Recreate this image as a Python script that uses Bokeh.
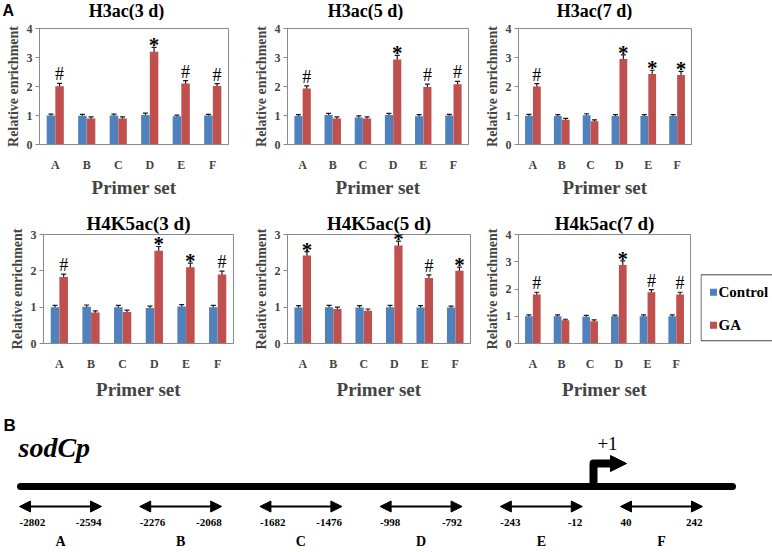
from bokeh.plotting import figure
from bokeh.models import (Range1d, FactorRange, ColumnDataSource, Whisker, TeeHead,
                          Arrow, NormalHead, FixedTicker)
from bokeh.transform import dodge
from bokeh.layouts import column, row
from bokeh.core.properties import value
from bokeh.embed import file_html
from bokeh.resources import INLINE

# ---------------- data ----------------
primers = ["A", "B", "C", "D", "E", "F"]

titles = ["H3ac(3 d)", "H3ac(5 d)", "H3ac(7 d)", "H4K5ac(3 d)", "H4K5ac(5 d)", "H4k5ac(7 d)"]
y_max = [4, 4, 4, 3, 3, 4]

ctrl_h3_3d = [1.00, 0.99, 1.00, 1.02, 0.97, 1.00]
ga_h3_3d = [2.01, 0.90, 0.90, 3.20, 2.10, 2.02]
ctrl_err_h3_3d = [0.05, 0.05, 0.05, 0.06, 0.04, 0.04]
ga_err_h3_3d = [0.10, 0.05, 0.05, 0.15, 0.10, 0.08]
marks_h3_3d = ["#", "", "", "*", "#", "#"]

ctrl_h3_5d = [0.98, 1.02, 0.93, 1.02, 0.97, 1.00]
ga_h3_5d = [1.93, 0.90, 0.90, 2.93, 1.98, 2.08]
ctrl_err_h3_5d = [0.05, 0.05, 0.06, 0.05, 0.06, 0.04]
ga_err_h3_5d = [0.09, 0.05, 0.05, 0.14, 0.10, 0.10]
marks_h3_5d = ["#", "", "", "*", "#", "#"]

ctrl_h3_7d = [0.99, 0.98, 1.01, 0.98, 0.98, 0.98]
ga_h3_7d = [2.00, 0.85, 0.80, 2.95, 2.43, 2.40]
ctrl_err_h3_7d = [0.05, 0.05, 0.05, 0.05, 0.05, 0.05]
ga_err_h3_7d = [0.10, 0.05, 0.05, 0.14, 0.13, 0.12]
marks_h3_7d = ["#", "", "", "*", "*", "*"]

ctrl_h4_3d = [1.00, 1.01, 1.00, 0.98, 1.02, 1.00]
ga_h4_3d = [1.83, 0.85, 0.87, 2.55, 2.10, 1.90]
ctrl_err_h4_3d = [0.05, 0.05, 0.05, 0.05, 0.05, 0.05]
ga_err_h4_3d = [0.08, 0.05, 0.05, 0.12, 0.11, 0.09]
marks_h4_3d = ["#", "", "", "*", "*", "#"]

ctrl_h4_5d = [0.99, 1.00, 0.99, 1.00, 0.99, 0.99]
ga_h4_5d = [2.42, 0.95, 0.90, 2.70, 1.80, 2.00]
ctrl_err_h4_5d = [0.05, 0.05, 0.05, 0.05, 0.05, 0.04]
ga_err_h4_5d = [0.11, 0.05, 0.05, 0.12, 0.09, 0.10]
marks_h4_5d = ["*", "", "", "*", "#", "*"]

ctrl_h4_7d = [1.00, 1.00, 0.98, 1.00, 1.00, 1.00]
ga_h4_7d = [1.80, 0.85, 0.82, 2.88, 1.88, 1.80]
ctrl_err_h4_7d = [0.05, 0.05, 0.05, 0.04, 0.05, 0.05]
ga_err_h4_7d = [0.08, 0.04, 0.05, 0.15, 0.10, 0.08]
marks_h4_7d = ["#", "", "", "*", "#", "#"]

series_names = ["Control", "GA"]

# promoter map
primer_start = [-2802, -2276, -1682, -998, -243, 40]
primer_end = [-2594, -2068, -1476, -792, -12, 242]
gene_name = "sodCp"
tss_label = "+1"

# ---------------- style ----------------
SERIF = "Liberation Serif"
SANS = "Liberation Sans"
BLUE = "#4F81BD"
RED = "#C0504D"
ERR = "#1a1a1a"
GRAY = "#8a8a8a"
BW = 0.27
DX = 0.137


def style_title(p, t_off):
    p.title.align = "center"
    p.title.offset = t_off
    p.title.standoff = 2
    p.title.text_font = SERIF
    p.title.text_font_size = "19px"
    p.title.text_font_style = "bold"
    p.title.text_color = "black"


def make_panel(title, ymax, ctrl, ctrl_err, ga, ga_err, marks, w, h, bl, br, bt, bb,
               t_off, xlab_std):
    src = ColumnDataSource(dict(
        cat=primers, ctrl=ctrl, ga=ga,
        c_lo=[v - e for v, e in zip(ctrl, ctrl_err)],
        c_hi=[v + e for v, e in zip(ctrl, ctrl_err)],
        g_lo=[v - e for v, e in zip(ga, ga_err)],
        g_hi=[v + e for v, e in zip(ga, ga_err)],
    ))
    p = figure(width=w, height=h, x_range=FactorRange(factors=primers, range_padding=0),
               y_range=Range1d(0, ymax), output_backend="svg", toolbar_location=None,
               min_border_left=bl, min_border_right=br, min_border_top=bt, min_border_bottom=bb)
    if title is not None:
        p.title.text = title
        style_title(p, t_off)

    xc = dodge("cat", -DX, range=p.x_range)
    xg = dodge("cat", DX, range=p.x_range)
    p.vbar(x=xc, top="ctrl", width=BW, source=src, fill_color=BLUE, line_color=None)
    p.vbar(x=xg, top="ga", width=BW, source=src, fill_color=RED, line_color=None)
    for base, lo, hi in ((xc, "c_lo", "c_hi"), (xg, "g_lo", "g_hi")):
        p.add_layout(Whisker(base=base, lower=lo, upper=hi, source=src,
                             line_color=ERR, line_width=1.2,
                             upper_head=TeeHead(size=5, line_color=ERR, line_width=1.2),
                             lower_head=TeeHead(size=5, line_color=ERR, line_width=1.2)))

    hx = [c for c, m in zip(primers, marks) if m == "#"]
    hy = [v + e for v, e, m in zip(ga, ga_err, marks) if m == "#"]
    sx = [c for c, m in zip(primers, marks) if m == "*"]
    sy = [v + e for v, e, m in zip(ga, ga_err, marks) if m == "*"]
    hs = ColumnDataSource(dict(cat=hx, y=hy, t=["#"] * len(hx)))
    ss = ColumnDataSource(dict(cat=sx, y=sy, t=["*"] * len(sx)))
    p.text(x=dodge("cat", DX, range=p.x_range), y="y", text="t", source=hs,
           text_align="center", text_baseline="bottom", y_offset=1,
           text_font=value(SERIF), text_font_size="18px", text_color="black")
    p.text(x=dodge("cat", DX, range=p.x_range), y="y", text="t", source=ss,
           text_align="center", text_baseline="middle", y_offset=-2,
           text_font=value(SERIF), text_font_size="21px", text_font_style="bold",
           text_color="black")

    p.xgrid.visible = False
    p.ygrid.visible = False
    p.outline_line_color = GRAY
    p.background_fill_color = "white"
    p.border_fill_color = "white"

    p.yaxis.ticker = FixedTicker(ticks=list(range(ymax + 1)))
    p.yaxis.axis_label = "Relative enrichment"
    p.yaxis.axis_label_text_font = SERIF
    p.yaxis.axis_label_text_font_size = "14px"
    p.yaxis.axis_label_text_font_style = "bold"
    p.yaxis.axis_label_standoff = 3
    p.yaxis.major_label_text_font = SERIF
    p.yaxis.major_label_text_font_size = "12px"
    p.yaxis.major_label_text_font_style = "bold"
    p.yaxis.major_label_standoff = 3
    p.yaxis.major_tick_out = 4
    p.yaxis.major_tick_in = 0
    p.yaxis.minor_tick_line_color = None
    p.yaxis.axis_line_color = GRAY
    p.yaxis.major_tick_line_color = GRAY

    p.xaxis.axis_label = "Primer set"
    p.xaxis.axis_label_text_font = SERIF
    p.xaxis.axis_label_text_font_size = "19px"
    p.xaxis.axis_label_text_font_style = "bold"
    p.xaxis.axis_label_standoff = xlab_std
    p.xaxis.major_label_text_font = SERIF
    p.xaxis.major_label_text_font_size = "12px"
    p.xaxis.major_label_text_font_style = "bold"
    p.xaxis.major_label_standoff = 7
    p.xaxis.major_tick_line_color = None
    p.xaxis.axis_line_color = GRAY
    return p


def blank(w, h, xr, yr, bt=0, bb=0):
    f = figure(width=w, height=h, output_backend="svg", toolbar_location=None,
               x_range=Range1d(*xr), y_range=Range1d(*yr),
               min_border_left=0, min_border_right=0, min_border_top=bt, min_border_bottom=bb,
               x_axis_location=None, y_axis_location=None)
    f.grid.visible = False
    f.outline_line_color = None
    return f


# title strip for the first row (page y 0..20), with the panel letter "A"
strip = blank(772, 20, (0, 772), (20, 0))
strip_src = ColumnDataSource(dict(x=[126, 365, 594], y=[10.5, 10.5, 10.5], t=titles[:3]))
strip.text(x="x", y="y", text="t", source=strip_src, text_align="center",
           text_baseline="middle", text_font=value(SERIF), text_font_size="18px",
           text_font_style="bold", text_color="black")
strip.text(x=[2], y=[10], text=["A"], text_align="left", text_baseline="middle",
           text_font=value(SANS), text_font_size="16px", text_font_style="bold")

# row 1: page y 20..200 ; row 2: 200..402 ; diagram 402..552
f1 = make_panel(None, y_max[0], ctrl_h3_3d, ctrl_err_h3_3d, ga_h3_3d, ga_err_h3_3d,
                marks_h3_3d, 250, 180, 39, 22, 8, 49, 0, 2)
f2 = make_panel(None, y_max[1], ctrl_h3_5d, ctrl_err_h3_5d, ga_h3_5d, ga_err_h3_5d,
                marks_h3_5d, 231, 180, 36, 13, 8, 49, 0, 2)
f3 = make_panel(None, y_max[2], ctrl_h3_7d, ctrl_err_h3_7d, ga_h3_7d, ga_err_h3_7d,
                marks_h3_7d, 291, 180, 32, 81, 8, 49, 0, 2)
f4 = make_panel(titles[3], y_max[3], ctrl_h4_3d, ctrl_err_h4_3d, ga_h4_3d, ga_err_h4_3d,
                marks_h4_3d, 250, 202, 43, 17, 34, 49, -19, 5)
f5 = make_panel(titles[4], y_max[4], ctrl_h4_5d, ctrl_err_h4_5d, ga_h4_5d, ga_err_h4_5d,
                marks_h4_5d, 231, 202, 35, 11, 34, 49, -3, 5)
f6 = make_panel(titles[5], y_max[5], ctrl_h4_7d, ctrl_err_h4_7d, ga_h4_7d, ga_err_h4_7d,
                marks_h4_7d, 219, 202, 33, 10, 34, 49, 0, 5)

# legend panel: its frame is aligned with the row's frames (page y 234..353)
lg = blank(72, 202, (700, 772), (353, 234), bt=34, bb=49)
lg.quad(left=[700.5], right=[790], top=[278], bottom=[350], fill_color=None,
        line_color="#444444", line_width=1)
leg_src = ColumnDataSource(dict(x=[713, 713], y=[297, 333], label=series_names,
                                color=[BLUE, RED]))
lg.scatter(x="x", y="y", marker="square", size=7, fill_color="color", line_color=None,
           source=leg_src)
lg.text(x=dodge("x", 5), y="y", text="label", source=leg_src, text_align="left",
        text_baseline="middle", text_font=value(SERIF), text_font_size="15px",
        text_font_style="bold", text_color="black")

# promoter diagram
K = 120.2           # pixels per primer slot
X0 = -60 / K
X1 = X0 + 772 / K
d = blank(772, 150, (X0, X1), (150, 0))


def px(xp):
    return X0 + xp / K


idx = list(range(len(primers)))
HALF = 0.341
Y_GENE, Y_ARR, Y_NUM, Y_LET = 84, 104, 120, 139
d.line(x=[px(20), px(732)], y=[Y_GENE, Y_GENE], line_width=7, line_color="black", line_cap="round")
arr_src = ColumnDataSource(dict(xs=[i - HALF for i in idx], xe=[i + HALF for i in idx],
                                y=[Y_ARR] * len(idx)))
d.add_layout(Arrow(x_start="xs", x_end="xe", y_start="y", y_end="y", source=arr_src,
                   line_width=2, line_color="black",
                   start=NormalHead(size=11, fill_color="black", line_color="black"),
                   end=NormalHead(size=11, fill_color="black", line_color="black")))
num_src = ColumnDataSource(dict(xs=[i - HALF for i in idx], xe=[i + HALF for i in idx],
                                ts=[str(v) for v in primer_start], te=[str(v) for v in primer_end],
                                y=[Y_NUM] * len(idx)))
d.text(x="xs", y="y", text="ts", source=num_src, text_align="left", text_baseline="middle",
       text_font=value(SERIF), text_font_size="11px", text_font_style="bold")
d.text(x="xe", y="y", text="te", source=num_src, text_align="right", text_baseline="middle",
       text_font=value(SERIF), text_font_size="11px", text_font_style="bold")
let_src = ColumnDataSource(dict(x=idx, y=[Y_LET] * len(idx), t=primers))
d.text(x="x", y="y", text="t", source=let_src, text_align="center", text_baseline="middle",
       text_font=value(SERIF), text_font_size="14px", text_font_style="bold")

# transcription start site
TSS = px(593)
d.line(x=[TSS, TSS, px(612)], y=[Y_GENE, 61, 61], line_width=8, line_color="black",
       line_join="round")
d.add_layout(Arrow(x_start=px(605), x_end=px(626), y_start=61, y_end=61, line_width=6,
                   line_color="black",
                   end=NormalHead(size=16, fill_color="black", line_color="black")))
d.text(x=[px(607)], y=[41], text=[tss_label], text_align="center", text_baseline="middle",
       text_font=value(SERIF), text_font_size="19px")
d.text(x=[px(18)], y=[45], text=[gene_name], text_align="left", text_baseline="middle",
       text_font=value(SERIF), text_font_size="28px", text_font_style="bold italic")
d.text(x=[px(3)], y=[23], text=["B"], text_align="left", text_baseline="middle",
       text_font=value(SANS), text_font_size="17px", text_font_style="bold")

layout = column(strip, row(f1, f2, f3), row(f4, f5, f6, lg), d)
open("out.html", "w").write(file_html(layout, INLINE))
